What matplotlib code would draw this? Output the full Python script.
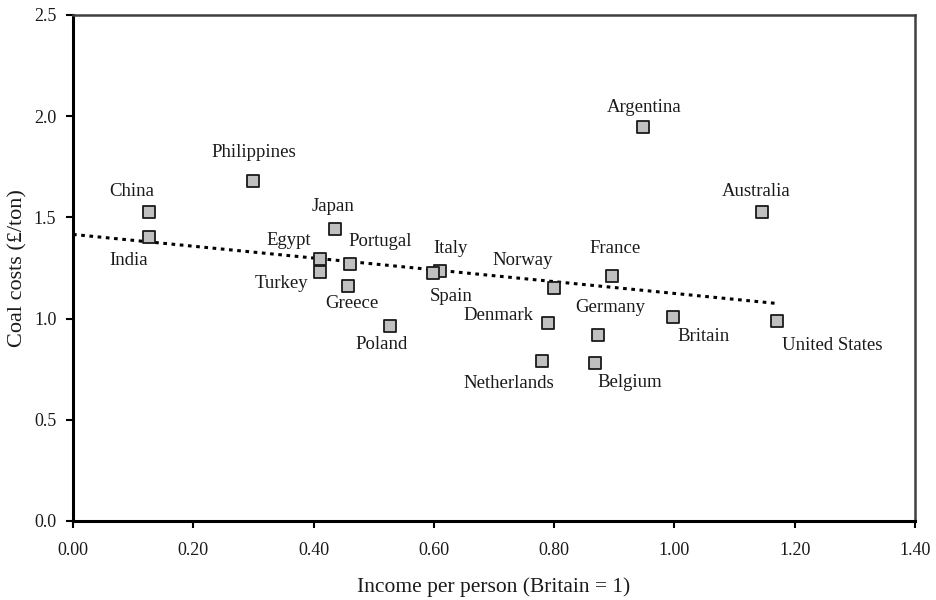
import numpy as np
import matplotlib
matplotlib.use("Agg")
import matplotlib.pyplot as plt

plt.rcParams['font.family'] = ['Liberation Serif', 'DejaVu Serif']

# Данные: доход на душу населения (Британия = 1) и стоимость угля (£/т)
countries = ["China", "India", "Philippines", "Japan", "Egypt", "Turkey",
             "Portugal", "Greece", "Poland", "Italy", "Spain", "Norway",
             "Denmark", "Netherlands", "France", "Germany", "Belgium",
             "Argentina", "Australia", "Britain", "United States"]
income = [0.126, 0.126, 0.300, 0.436, 0.411, 0.411,
          0.461, 0.457, 0.527, 0.611, 0.598, 0.799,
          0.790, 0.780, 0.896, 0.873, 0.868,
          0.948, 1.146, 0.997, 1.171]
coal_cost = [1.527, 1.403, 1.680, 1.443, 1.294, 1.230,
             1.270, 1.161, 0.963, 1.235, 1.225, 1.151,
             0.978, 0.790, 1.210, 0.919, 0.781,
             1.947, 1.527, 1.008, 0.988]

# Сдвиги подписей относительно точек (в пикселях)
label_offsets = {
    "China": (-17, 20), "India": (-20, -23), "Philippines": (0, 28),
    "Japan": (-2, 22), "Egypt": (-31, 19), "Turkey": (-39, -11),
    "Portugal": (30, 22), "Greece": (4, -17), "Poland": (-8, -18),
    "Italy": (10, 23), "Spain": (19, -23), "Norway": (-31, 28),
    "Denmark": (-50, 8), "Netherlands": (-33, -22), "France": (3, 28),
    "Germany": (12, 27), "Belgium": (35, -20), "Argentina": (1, 19),
    "Australia": (-6, 20), "Britain": (31, -20), "United States": (55, -24),
}

fig = plt.figure(figsize=(9.37, 6.0), dpi=100)
ax = fig.add_axes([0.0779, 0.1317, 0.8986, 0.8433])

# Линия тренда (МНК)
x = np.array(income)
y = np.array(coal_cost)
k, b = np.polyfit(x, y, 1)
xt = np.array([0.0, x.max()])
ax.plot(xt, k * xt + b, color='black', linestyle=(0, (1.2, 1.5)), linewidth=2.2, zorder=2)

ax.scatter(x, y, marker='s', s=75, facecolor='#c0c0c0', edgecolor='#1a1a1a',
           linewidth=1.3, zorder=3)

for name, xi, yi in zip(countries, income, coal_cost):
    dx, dy = label_offsets[name]
    ax.annotate(name, (xi, yi), xytext=(dx, dy), textcoords='offset pixels',
                ha='center', va='center', fontsize=13.5, color='#1a1a1a')

ax.set_xlim(0, 1.4)
ax.set_ylim(0, 2.5)
ax.set_xticks(np.arange(0, 1.41, 0.2))
ax.set_xticklabels([f"{v:.2f}" for v in np.arange(0, 1.41, 0.2)])
ax.set_yticks(np.arange(0, 2.51, 0.5))
ax.set_yticklabels([f"{v:.1f}" for v in np.arange(0, 2.51, 0.5)])
ax.tick_params(direction='out', length=5, width=1.5, labelsize=13, colors='black',
               labelcolor='#1a1a1a')
ax.tick_params(axis='x', pad=10)
ax.tick_params(axis='y', pad=7)

for side in ['left', 'bottom']:
    ax.spines[side].set_color('black')
    ax.spines[side].set_linewidth(2.2)
for side in ['top', 'right']:
    ax.spines[side].set_color('#404040')
    ax.spines[side].set_linewidth(1.8)

ax.set_xlabel("Income per person (Britain = 1)", fontsize=15.5, color='#1a1a1a', va='center')
ax.xaxis.set_label_coords(0.5, -0.1304)
ax.set_ylabel("Coal costs (£/ton)", fontsize=16, color='#1a1a1a', va='center')
ax.yaxis.set_label_coords(-0.066, 0.5)

fig.savefig("out.png", dpi=100)
